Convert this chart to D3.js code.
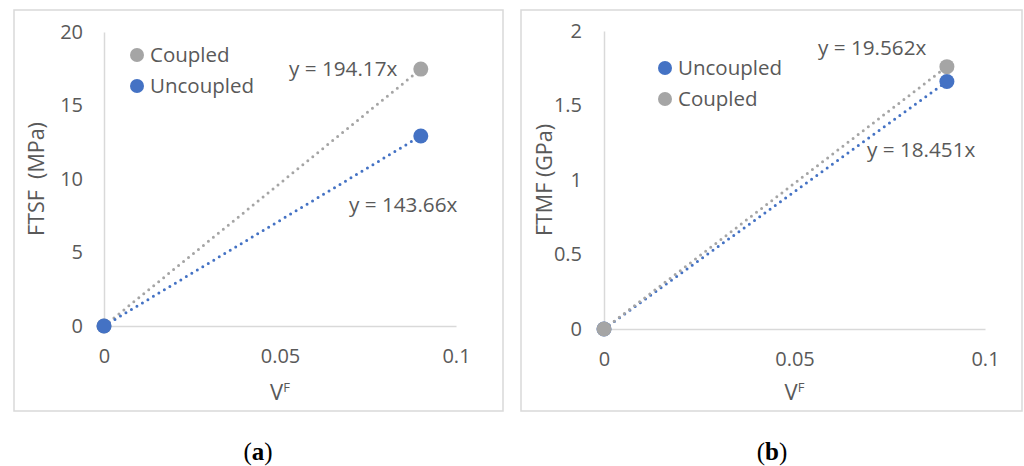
<!DOCTYPE html>
<html>
<head>
<meta charset="utf-8">
<script src="https://cdn.jsdelivr.net/npm/d3@7"></script>
<style>
  html, body { margin: 0; padding: 0; background: #fff; }
  svg { display: block; }
  text { font-family: "Open Sans", "Noto Sans", sans-serif; fill: #595959; }
</style>
</head>
<body>
<svg id="chart" width="1024" height="466"></svg>
<script>
// Fibre volume fraction values (x) shared by both panels
const vf = [0, 0.09];

// Panel (a): FTSF (MPa)
const ftsfCoupled = [0, 17.475];
const ftsfUncoupled = [0, 12.929];
const ftsfSlopes = { coupled: 194.17, uncoupled: 143.66 };

// Panel (b): FTMF (GPa)
const ftmfCoupled = [0, 1.7606];
const ftmfUncoupled = [0, 1.6606];
const ftmfSlopes = { coupled: 19.562, uncoupled: 18.451 };

const xTicks = [0, 0.05, 0.1];
const ftsfTicks = [0, 5, 10, 15, 20];
const ftmfTicks = [0, 0.5, 1, 1.5, 2];

const GRAY = "#a5a5a5";
const BLUE = "#4472c4";
const AXIS = "#d9d9d9";
const FONT = '"Open Sans", "Noto Sans", sans-serif';

const svg = d3.select("#chart");

function panel(cfg) {
  const g = svg.append("g");

  // frame
  g.append("rect")
    .attr("x", cfg.frame[0]).attr("y", cfg.frame[1])
    .attr("width", cfg.frame[2]).attr("height", cfg.frame[3])
    .attr("fill", "#fff").attr("stroke", AXIS).attr("stroke-width", 1.5);

  const x = d3.scaleLinear().domain([0, 0.1]).range([cfg.x0, cfg.x1]);
  const y = d3.scaleLinear().domain([0, cfg.yMax]).range([cfg.y0, cfg.y1]);

  // axes
  const xAxis = g.append("g").attr("transform", `translate(0,${cfg.y0})`)
    .call(d3.axisBottom(x).tickValues(xTicks).tickSize(0).tickPadding(23)
      .tickFormat(d => String(+d.toFixed(2))));
  const yAxis = g.append("g").attr("transform", `translate(${cfg.x0},0)`)
    .call(d3.axisLeft(y).tickValues(cfg.yTicks).tickSize(0).tickPadding(cfg.yPad)
      .tickFormat(d => String(d)));
  [xAxis, yAxis].forEach(a => {
    a.select(".domain").attr("stroke", AXIS).attr("stroke-width", 1.5);
    a.selectAll("text").style("font-size", "20px").attr("fill", "#595959")
      .style("font-family", FONT);
  });
  xAxis.selectAll("text").attr("dy", "0.71em");

  // axis titles
  const xt = g.append("text")
    .attr("x", x(0.05)).attr("y", cfg.xTitleY)
    .attr("text-anchor", "middle").style("font-size", "22px");
  xt.append("tspan").text("V");
  xt.append("tspan").attr("dy", "-8").style("font-size", "13px").text("F");

  g.append("text")
    .attr("transform", `translate(${cfg.yTitleX},${(cfg.y0 + cfg.y1) / 2}) rotate(-90)`)
    .attr("text-anchor", "middle").attr("dy", "0.35em")
    .style("font-size", "21.5px").style("white-space", "pre")
    .text(cfg.yTitle);

  // trendlines (dotted) and points
  const line = d3.line().x(d => x(d[0])).y(d => y(d[1]));
  cfg.series.forEach(s => {
    g.append("path")
      .datum(vf.map((v, i) => [v, s.values[i]]))
      .attr("d", line)
      .attr("fill", "none").attr("stroke", s.color)
      .attr("stroke-width", 3).attr("stroke-linecap", "round")
      .attr("stroke-dasharray", "0 6.4");
  });
  cfg.series.forEach(s => {
    g.selectAll(null).data(vf.map((v, i) => [v, s.values[i]])).enter()
      .append("circle")
      .attr("cx", d => x(d[0])).attr("cy", d => y(d[1]))
      .attr("r", 7.5).attr("fill", s.color);
  });

  // trendline equations
  cfg.series.forEach(s => {
    g.append("text")
      .attr("x", s.eqPos[0]).attr("y", s.eqPos[1])
      .attr("dy", "0.35em").style("font-size", "20.7px")
      .text(`y = ${s.slope}x`);
  });

  // legend
  cfg.legend.forEach((s, i) => {
    const ly = cfg.legendPos[1] + i * cfg.legendGap;
    g.append("circle").attr("cx", cfg.legendPos[0]).attr("cy", ly)
      .attr("r", 7).attr("fill", s.color);
    g.append("text").attr("x", cfg.legendPos[0] + 13).attr("y", ly)
      .attr("dy", "0.35em").style("font-size", "20.5px").text(s.name);
  });

  // caption
  const cap = g.append("text")
    .attr("x", cfg.captionX).attr("y", 460)
    .attr("text-anchor", "middle")
    .style("font-family", '"Liberation Serif", "DejaVu Serif", serif')
    .style("font-size", "25px");
  cap.append("tspan").style("fill", "#000").text("(");
  cap.append("tspan").style("fill", "#000").style("font-weight", "bold").text(cfg.caption);
  cap.append("tspan").style("fill", "#000").text(")");
}

const coupledA = { name: "Coupled", color: GRAY, values: ftsfCoupled, slope: ftsfSlopes.coupled, eqPos: [289, 69] };
const uncoupledA = { name: "Uncoupled", color: BLUE, values: ftsfUncoupled, slope: ftsfSlopes.uncoupled, eqPos: [349, 205] };

panel({
  frame: [14, 10, 489, 401],
  x0: 104, x1: 456, y0: 326, y1: 32,
  yMax: 20, yTicks: ftsfTicks, yPad: 21,
  xTitleY: 400, yTitleX: 36, yTitle: "FTSF  (MPa)",
  series: [coupledA, uncoupledA],
  legend: [coupledA, uncoupledA],
  legendPos: [137, 55], legendGap: 31,
  captionX: 258, caption: "a"
});

const uncoupledB = { name: "Uncoupled", color: BLUE, values: ftmfUncoupled, slope: ftmfSlopes.uncoupled, eqPos: [867, 150] };
const coupledB = { name: "Coupled", color: GRAY, values: ftmfCoupled, slope: ftmfSlopes.coupled, eqPos: [818, 48] };

panel({
  frame: [521, 10, 501, 401],
  x0: 604, x1: 985, y0: 329, y1: 31,
  yMax: 2, yTicks: ftmfTicks, yPad: 22,
  xTitleY: 400, yTitleX: 544, yTitle: "FTMF (GPa)",
  series: [uncoupledB, coupledB],
  legend: [uncoupledB, coupledB],
  legendPos: [665, 68], legendGap: 31,
  captionX: 772, caption: "b"
});
</script>
</body>
</html>
